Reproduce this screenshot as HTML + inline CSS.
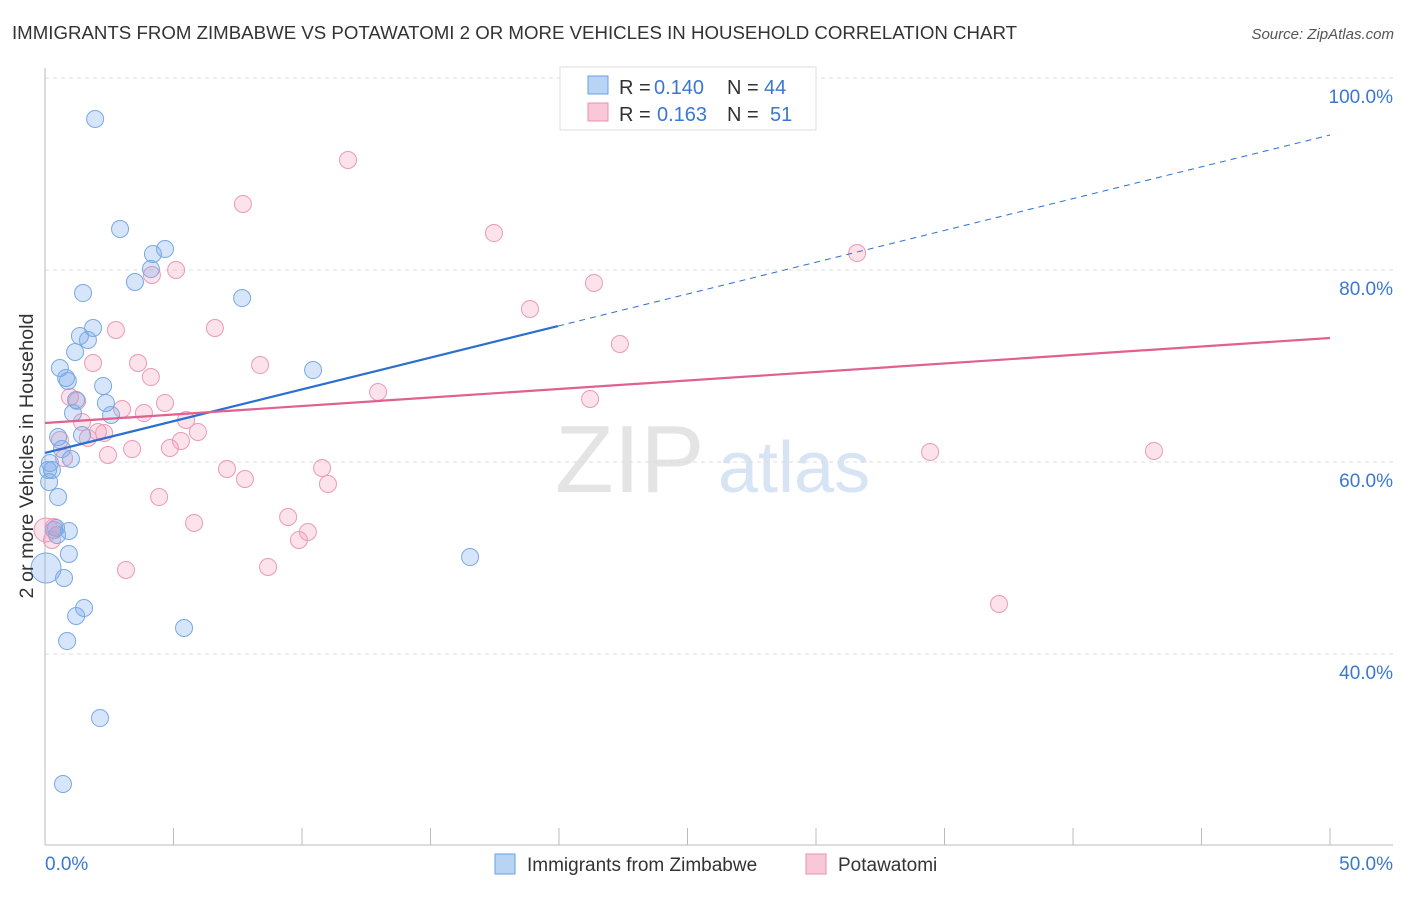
<!DOCTYPE html>
<html><head><meta charset="utf-8"><style>
body{margin:0;background:#fff;font-family:"Liberation Sans",sans-serif;}
svg text{font-family:"Liberation Sans",sans-serif;}
</style></head><body>
<svg width="1406" height="892" xmlns="http://www.w3.org/2000/svg">
<text x="12" y="39" font-size="18.6" fill="#333" textLength="1005" lengthAdjust="spacingAndGlyphs">IMMIGRANTS FROM ZIMBABWE VS POTAWATOMI 2 OR MORE VEHICLES IN HOUSEHOLD CORRELATION CHART</text>
<text x="1394" y="39" font-size="15" fill="#555" text-anchor="end" font-style="italic">Source: ZipAtlas.com</text>
<text x="555" y="492" font-size="96" fill="#e4e4e4" font-family="Liberation Serif">ZIP</text>
<text x="718" y="492" font-size="72" fill="#d6e4f4">atlas</text>
<g id="grid"></g><g id="pts"></g><g id="lines"></g>
<text x="33" y="456" font-size="19" fill="#333" text-anchor="middle" textLength="285" lengthAdjust="spacingAndGlyphs" transform="rotate(-90 33 456)">2 or more Vehicles in Household</text>
<g>
<rect x="560" y="67" width="256" height="63" fill="#fff" stroke="#ddd"/>
<rect x="588" y="76" width="20" height="18" fill="#b8d4f5" stroke="#6a9fe0"/>
<rect x="588" y="103" width="20" height="18" fill="#f9c8d8" stroke="#e890ad"/>
<text x="619" y="94" font-size="20" fill="#333">R =</text>
<text x="654" y="94" font-size="20" fill="#3a78d0">0.140</text>
<text x="727" y="94" font-size="20" fill="#333">N =</text>
<text x="764" y="94" font-size="20" fill="#3a78d0">44</text>
<text x="619" y="121" font-size="20" fill="#333">R =</text>
<text x="657" y="121" font-size="20" fill="#3a78d0">0.163</text>
<text x="727" y="121" font-size="20" fill="#333">N =</text>
<text x="770" y="121" font-size="20" fill="#3a78d0">51</text>
</g>
<g>
<rect x="495" y="854" width="20" height="20" fill="#b8d4f5" stroke="#6a9fe0"/>
<text x="527" y="871" font-size="19" fill="#333">Immigrants from Zimbabwe</text>
<rect x="806" y="854" width="20" height="20" fill="#f9c8d8" stroke="#e890ad"/>
<text x="838" y="871" font-size="19" fill="#333">Potawatomi</text>
</g>
</svg>
<script>
const blueX=[1.95,2.92,4.20,4.67,4.12,3.50,1.48,7.67,1.87,1.36,1.67,1.17,10.43,0.58,0.82,0.89,2.26,1.21,2.37,1.09,2.57,1.44,0.51,0.66,1.01,0.19,0.12,0.27,0.16,0.51,0.43,0.93,0.47,0.93,16.54,0.74,1.52,1.21,0.86,5.41,2.14,0.70,0.35];
const blueY=[95.73,84.27,81.67,82.19,80.10,78.75,77.60,77.08,73.96,73.13,72.71,71.46,69.58,69.79,68.75,68.44,67.92,66.46,66.15,65.10,64.90,62.81,62.60,61.35,60.31,59.90,59.17,59.17,57.92,56.35,53.13,52.81,52.40,50.42,50.10,47.92,44.79,43.96,41.35,42.71,33.33,26.46,52.92];
const pinkX=[11.79,7.70,17.47,31.60,5.10,4.16,21.36,18.87,2.76,6.61,22.37,1.87,3.62,8.37,4.12,12.96,0.97,1.25,4.67,21.21,3.00,3.85,5.49,1.44,5.95,5.29,2.30,1.67,2.06,0.58,4.86,3.39,2.45,0.74,34.44,43.15,7.08,10.78,7.78,11.01,4.44,9.46,5.80,10.23,9.88,0.35,0.27,3.15,8.68,37.12];
const pinkY=[91.46,86.88,83.85,81.77,80.00,79.48,78.65,75.94,73.75,73.96,72.29,70.31,70.31,70.10,68.85,67.29,66.77,66.35,66.15,66.56,65.52,65.10,64.38,64.17,63.13,62.19,63.02,62.50,63.13,62.29,61.46,61.35,60.73,60.42,61.04,61.15,59.27,59.38,58.23,57.71,56.35,54.27,53.65,52.71,51.88,53.23,51.88,48.75,49.06,45.21];
const bigBlue=[0.04,48.96], bigPink=[0.04,52.92];
const blueTrend=[60.94,94.06], blueSolidEnd=19.96, pinkTrend=[64.06,72.92];
const yTicks=[100,80,60,40], yTickLabels=["100.0%","80.0%","60.0%","40.0%"];
const NS="http://www.w3.org/2000/svg";
const sx=v=>45+v/50*1285, sy=v=>78+(100-v)*9.6;
function mk(p,t,a){const e=document.createElementNS(NS,t);for(const k in a)e.setAttribute(k,a[k]);p.appendChild(e);return e;}
const grid=document.getElementById('grid');
yTicks.forEach((t,i)=>{
 const l=mk(grid,'line',{x1:45,x2:1393,y1:sy(t),y2:sy(t),stroke:'#ddd','stroke-dasharray':'4,4'});
 
 
 const tx=mk(grid,'text',{x:1393,y:sy(t)+25,'font-size':19,fill:'#3a78d0','text-anchor':'end'});
 tx.textContent=yTickLabels[i];
 
 
});
mk(grid,'line',{x1:45,x2:45,y1:68,y2:845,stroke:'#bbb'});
mk(grid,'line',{x1:45,x2:1393,y1:845,y2:845,stroke:'#bbb'});
for(let i=0;i<=10;i++){const x=sx(i*5);const t=mk(grid,'line',{x1:x,x2:x,y1:828,y2:845,stroke:'#bbb'});
 
 }
const x0=mk(grid,'text',{x:45,y:870,'font-size':19,fill:'#3a78d0'});x0.textContent='0.0%';


const x1=mk(grid,'text',{x:1393,y:870,'font-size':19,fill:'#3a78d0','text-anchor':'end'});x1.textContent='50.0%';


const pts=document.getElementById('pts');
function dot(x,y,r,c,n){const e=mk(pts,'circle',{cx:sx(x),cy:sy(y),r:r,fill:c[0],stroke:c[1],'stroke-width':1});
 
 }
const BC=['rgba(120,170,235,0.3)','#7aa9e3'],PC=['rgba(245,160,190,0.3)','#eb9ab5'];
pinkX.forEach((x,i)=>dot(x,pinkY[i],8.5,PC,'potawatomi-point'));
blueX.forEach((x,i)=>dot(x,blueY[i],8.5,BC,'zimbabwe-point'));
dot(bigPink[0],bigPink[1],12,PC,'potawatomi-point');
dot(bigBlue[0],bigBlue[1],15,BC,'zimbabwe-point');
const L=document.getElementById('lines');
const by=x=>blueTrend[0]+(blueTrend[1]-blueTrend[0])*x/50;
let e=mk(L,'line',{x1:sx(0),y1:sy(by(0)),x2:sx(blueSolidEnd),y2:sy(by(blueSolidEnd)),stroke:'#2a6fd0','stroke-width':2.2});


e=mk(L,'line',{x1:sx(blueSolidEnd),y1:sy(by(blueSolidEnd)),x2:sx(50),y2:sy(by(50)),stroke:'#2a6fd0','stroke-width':1,'stroke-dasharray':'6,5'});


e=mk(L,'line',{x1:sx(0),y1:sy(pinkTrend[0]),x2:sx(50),y2:sy(pinkTrend[1]),stroke:'#e06090','stroke-width':2.2});


</script>
</body></html>
